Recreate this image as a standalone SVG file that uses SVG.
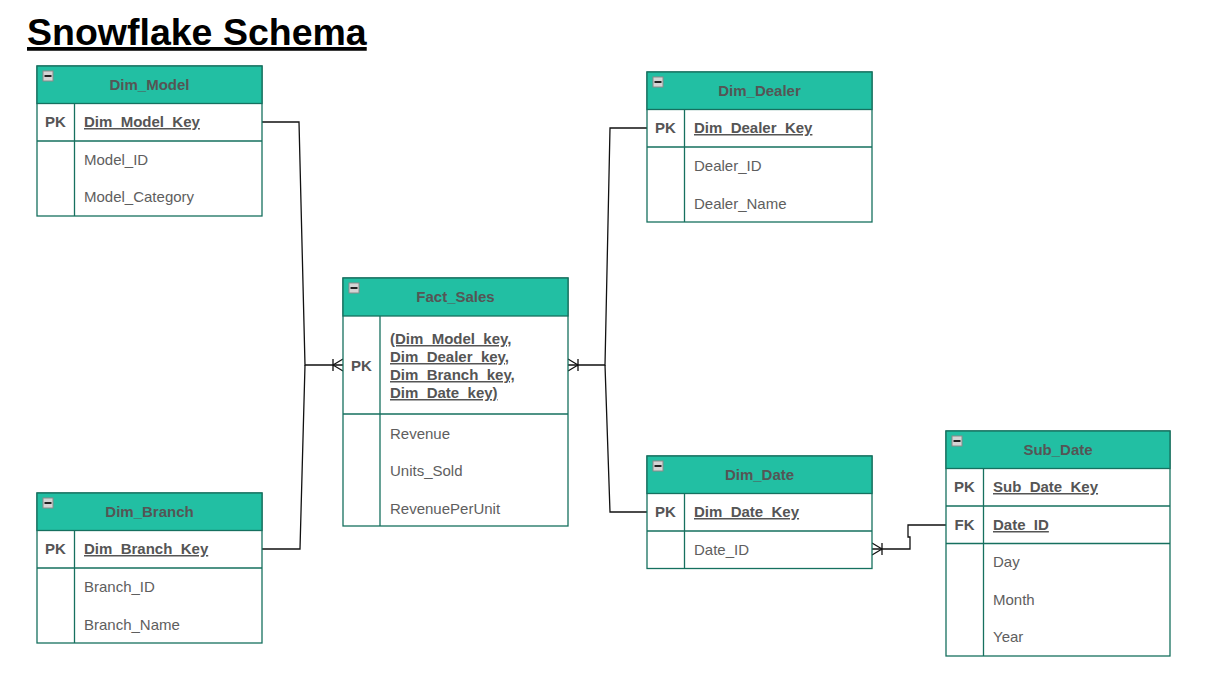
<svg xmlns="http://www.w3.org/2000/svg" width="1205" height="686" viewBox="0 0 1205 686">
<style>
.box{fill:#fff;stroke:#16705f;stroke-width:1.3}
.hdr{fill:#22bfa3;stroke:#16705f;stroke-width:1.3}
.ln{stroke:#16705f;stroke-width:1.3;fill:none}
.ht{font-family:"Liberation Sans",Arial,sans-serif;font-size:15px;font-weight:bold;fill:#555;text-anchor:middle}
.pk{font-family:"Liberation Sans",Arial,sans-serif;font-size:15px;font-weight:bold;fill:#555;text-anchor:middle}
.key{font-family:"Liberation Sans",Arial,sans-serif;font-size:15px;font-weight:bold;fill:#555;text-decoration:underline}
.at{font-family:"Liberation Sans",Arial,sans-serif;font-size:15px;fill:#5e5e5e}
.con{stroke:#111;stroke-width:1.3;fill:none}
</style>
<defs>
<g id="minus">
<rect x="0.5" y="0.5" width="10" height="10" fill="#d4d4d4" stroke="#8a8a8a" stroke-width="1"/>
<rect x="2" y="4.5" width="7" height="2" fill="#222"/>
</g>
</defs>
<text x="27" y="45" font-family="Liberation Sans,Arial,sans-serif" font-size="37.5" font-weight="bold" fill="#000" text-decoration="underline">Snowflake Schema</text>

<g id="connectors">
<path class="con" d="M262,122 H299 L305,365 H343"/>
<path class="con" d="M262,549 H300 L305,365"/>
<path class="con" d="M333,359 V371 M333,365 L343,359 M333,365 L343,371"/>
<path class="con" d="M647,128 H610 L605,365 H568"/>
<path class="con" d="M647,512 H610 L605,365"/>
<path class="con" d="M578,359 V371 M578,365 L568,359 M578,365 L568,371"/>
<path class="con" d="M946,525 H908 V537 H910 V549 H872"/>
<path class="con" d="M882,543 V555 M882,549 L872,543 M882,549 L872,555"/>
</g>

<g id="Dim_Model">
<rect class="box" x="37" y="66" width="225" height="150"/>
<rect class="hdr" x="37" y="66" width="225" height="37.5"/>
<use href="#minus" x="42.5" y="70.5"/>
<text class="ht" x="149.5" y="90">Dim_Model</text>
<path class="ln" d="M37,141 H262 M74.5,103.5 V216"/>
<text class="pk" x="55.5" y="127">PK</text>
<text class="key" x="84" y="127">Dim_Model_Key</text>
<text class="at" x="84" y="165">Model_ID</text>
<text class="at" x="84" y="202">Model_Category</text>
</g>

<g id="Dim_Branch">
<rect class="box" x="37" y="493" width="225" height="150"/>
<rect class="hdr" x="37" y="493" width="225" height="37.5"/>
<use href="#minus" x="42.5" y="497.5"/>
<text class="ht" x="149.5" y="517">Dim_Branch</text>
<path class="ln" d="M37,568 H262 M74.5,530.5 V643"/>
<text class="pk" x="55.5" y="554">PK</text>
<text class="key" x="84" y="554">Dim_Branch_Key</text>
<text class="at" x="84" y="592">Branch_ID</text>
<text class="at" x="84" y="630">Branch_Name</text>
</g>

<g id="Dim_Dealer">
<rect class="box" x="647" y="72" width="225" height="150"/>
<rect class="hdr" x="647" y="72" width="225" height="37.5"/>
<use href="#minus" x="652.5" y="76.5"/>
<text class="ht" x="759.5" y="96">Dim_Dealer</text>
<path class="ln" d="M647,147 H872 M684.5,109.5 V222"/>
<text class="pk" x="665.5" y="133">PK</text>
<text class="key" x="694" y="133">Dim_Dealer_Key</text>
<text class="at" x="694" y="171">Dealer_ID</text>
<text class="at" x="694" y="209">Dealer_Name</text>
</g>

<g id="Fact_Sales">
<rect class="box" x="343" y="278" width="225" height="248"/>
<rect class="hdr" x="343" y="278" width="225" height="38"/>
<use href="#minus" x="348.5" y="282.5"/>
<text class="ht" x="455.5" y="302">Fact_Sales</text>
<path class="ln" d="M343,414 H568 M380,316 V526"/>
<text class="pk" x="361.5" y="371">PK</text>
<text class="key" x="390" y="344">(Dim_Model_key,</text>
<text class="key" x="390" y="362">Dim_Dealer_key,</text>
<text class="key" x="390" y="380">Dim_Branch_key,</text>
<text class="key" x="390" y="398">Dim_Date_key)</text>
<text class="at" x="390" y="439">Revenue</text>
<text class="at" x="390" y="476">Units_Sold</text>
<text class="at" x="390" y="514">RevenuePerUnit</text>
</g>

<g id="Dim_Date">
<rect class="box" x="647" y="456" width="225" height="112.5"/>
<rect class="hdr" x="647" y="456" width="225" height="37.5"/>
<use href="#minus" x="652.5" y="460.5"/>
<text class="ht" x="759.5" y="480">Dim_Date</text>
<path class="ln" d="M647,531 H872 M684.5,493.5 V568.5"/>
<text class="pk" x="665.5" y="517">PK</text>
<text class="key" x="694" y="517">Dim_Date_Key</text>
<text class="at" x="694" y="555">Date_ID</text>
</g>

<g id="Sub_Date">
<rect class="box" x="946" y="431" width="224" height="225"/>
<rect class="hdr" x="946" y="431" width="224" height="37.5"/>
<use href="#minus" x="951.5" y="435.5"/>
<text class="ht" x="1058" y="455">Sub_Date</text>
<path class="ln" d="M946,506 H1170 M946,543.5 H1170 M983.5,468.5 V656"/>
<text class="pk" x="964.5" y="492">PK</text>
<text class="key" x="993" y="492">Sub_Date_Key</text>
<text class="pk" x="964.5" y="530">FK</text>
<text class="key" x="993" y="530">Date_ID</text>
<text class="at" x="993" y="567">Day</text>
<text class="at" x="993" y="605">Month</text>
<text class="at" x="993" y="642">Year</text>
</g>
</svg>
